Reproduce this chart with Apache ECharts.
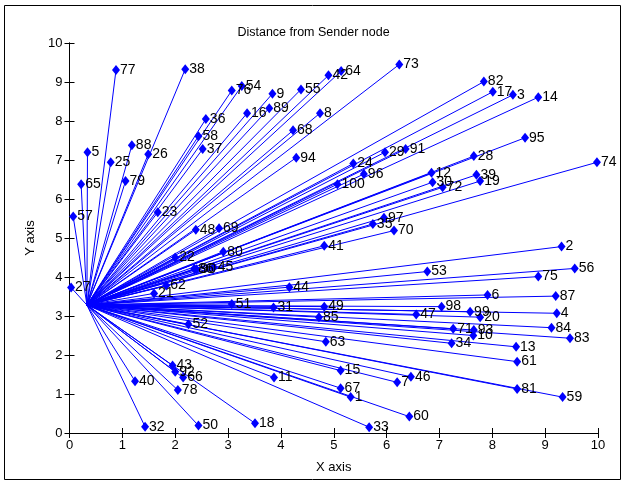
<!DOCTYPE html>
<html>
<head>
<meta charset="utf-8">
<title>Distance from Sender node</title>
<script src="https://cdn.jsdelivr.net/npm/echarts@6/dist/echarts.min.js"></script>
</head>
<body style="margin:0">
<div id="main" style="width:627px;height:484px;"></div>
<script type="text/javascript">
// sender node position
var senderX = 0.33;
var senderY = 3.28;

// node ids and coordinates
var nodeIds = [];
for (var k = 1; k <= 100; k++) nodeIds.push(k);
var nodeX = [5.32, 9.31, 8.39, 9.22, 0.34, 7.91, 6.20, 4.74, 3.84, 7.64,
             3.87, 6.85, 8.45, 8.87, 5.13, 3.36, 8.01, 3.51, 7.77, 7.77,
             1.60, 2.00, 1.67, 5.37, 0.78, 1.49, 0.03, 7.65, 5.97, 6.87,
             3.86, 1.43, 5.67, 7.23, 5.74, 2.58, 2.52, 2.19, 7.70, 1.24,
             4.82, 4.90, 1.95, 4.16, 2.73, 6.46, 6.56, 2.39, 4.82, 2.44,
             3.07, 2.25, 6.77, 3.26, 4.38, 9.56, 0.07, 2.44, 9.33, 6.43,
             8.47, 1.83, 4.85, 5.14, 0.22, 2.15, 5.13, 4.23, 2.83, 6.14,
             7.26, 7.06, 6.24, 9.98, 8.87, 3.07, 0.88, 2.05, 1.06, 2.91,
             8.47, 7.84, 9.47, 9.12, 4.72, 2.36, 9.20, 1.18, 3.78, 2.40,
             6.36, 2.00, 7.65, 4.29, 8.62, 5.57, 5.95, 7.04, 7.58, 5.07];
var nodeY = [0.92, 4.78, 8.67, 3.07, 7.20, 3.54, 1.30, 8.20, 8.70, 2.50,
             1.42, 6.67, 2.21, 8.61, 1.60, 8.20, 8.75, 0.25, 6.46, 2.97,
             3.58, 4.50, 5.66, 6.91, 6.94, 7.15, 3.73, 7.10, 7.20, 6.43,
             3.22, 0.16, 0.15, 2.30, 5.36, 8.05, 7.28, 9.33, 6.62, 1.33,
             4.80, 9.17, 1.73, 3.74, 4.25, 1.44, 3.04, 5.21, 3.24, 0.19,
             3.31, 2.79, 4.14, 8.90, 8.81, 4.22, 5.55, 7.61, 0.92, 0.42,
             1.83, 3.78, 2.34, 9.28, 6.38, 1.42, 1.15, 7.76, 5.25, 5.19,
             2.67, 6.30, 9.45, 6.94, 4.01, 8.78, 9.31, 1.10, 6.46, 4.65,
             1.13, 9.01, 2.43, 2.70, 2.97, 4.21, 3.51, 7.38, 8.33, 4.20,
             7.28, 1.57, 2.64, 7.06, 7.57, 6.64, 5.52, 3.24, 3.11, 6.38];
var tickValues = [0, 1, 2, 3, 4, 5, 6, 7, 8, 9, 10];

var myChart = echarts.init(document.getElementById('main'));

var linkData = [];
var nodeData = [];
for (var i = 0; i < nodeIds.length; i++) {
    linkData.push({ coords: [[senderX, senderY], [nodeX[i], nodeY[i]]] });
    nodeData.push({ value: [nodeX[i], nodeY[i]], name: String(nodeIds[i]) });
}

var axisCommon = {
    type: 'value',
    min: tickValues[0],
    max: tickValues[tickValues.length - 1],
    interval: 1,
    splitLine: { show: false },
    axisLine: { lineStyle: { color: '#000', width: 1 } },
    axisTick: { inside: true, length: 5, lineStyle: { color: '#000' } }
};
var labelStyle = { color: '#000', fontSize: 13, fontFamily: 'Liberation Sans' };

var option = {
    animation: false,
    backgroundColor: '#fff',
    textStyle: { fontFamily: 'Liberation Sans' },
    title: {
        text: 'Distance from Sender node',
        left: 'center',
        top: 21,
        textStyle: { color: '#000', fontSize: 12.5, fontWeight: 'normal', fontFamily: 'Liberation Sans' }
    },
    graphic: [{
        type: 'rect',
        shape: { x: 4.5, y: 5.5, width: 616, height: 474 },
        style: { fill: 'none', stroke: '#000', lineWidth: 1 },
        silent: true
    }],
    grid: { left: 69.5, right: 29, top: 43, bottom: 51 },
    xAxis: [
        Object.assign({}, axisCommon, {
            position: 'bottom',
            name: 'X axis',
            nameLocation: 'middle',
            nameGap: 28,
            nameTextStyle: labelStyle,
            axisLabel: Object.assign({ margin: 6 }, labelStyle)
        }),
        Object.assign({}, axisCommon, {
            position: 'top',
            axisLabel: { show: false }
        })
    ],
    yAxis: [
        Object.assign({}, axisCommon, {
            position: 'left',
            name: 'Y axis',
            nameLocation: 'middle',
            nameGap: 32,
            nameTextStyle: labelStyle,
            axisLabel: Object.assign({ margin: 7 }, labelStyle)
        }),
        Object.assign({}, axisCommon, {
            position: 'right',
            axisLabel: { show: false }
        })
    ],
    series: [{
        type: 'lines',
        coordinateSystem: 'cartesian2d',
        xAxisIndex: 0,
        yAxisIndex: 0,
        polyline: false,
        silent: true,
        lineStyle: { color: '#0000ff', width: 1, opacity: 1, curveness: 0 },
        data: linkData,
        z: 2
    }, {
        type: 'scatter',
        xAxisIndex: 0,
        yAxisIndex: 0,
        symbol: 'diamond',
        symbolSize: [8, 10],
        itemStyle: { color: '#0000ff', opacity: 1 },
        label: {
            show: true,
            position: 'right',
            distance: 0,
            offset: [0, 2],
            formatter: '{b}',
            color: '#000',
            fontSize: 14,
            fontFamily: 'Liberation Sans'
        },
        labelLayout: { hideOverlap: false },
        data: nodeData,
        z: 3
    }]
};

myChart.setOption(option);
</script>
</body>
</html>
